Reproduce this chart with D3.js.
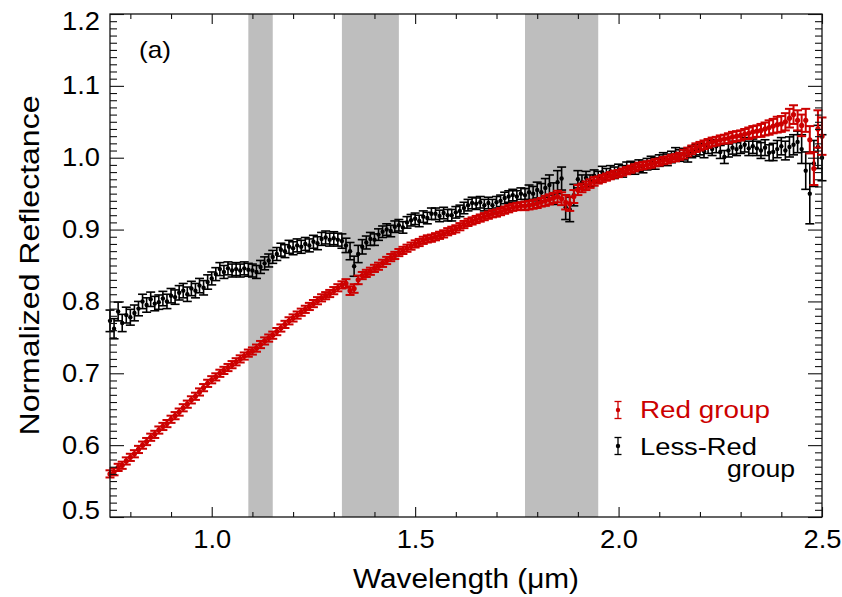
<!DOCTYPE html>
<html>
<head>
<meta charset="utf-8">
<script src="https://cdn.jsdelivr.net/npm/d3@7"></script>
<style>
  html, body { margin: 0; padding: 0; background: #fff; }
  svg { display: block; font-family: "Liberation Sans", Arial, Helvetica, sans-serif; }
</style>
</head>
<body>
<svg id="chart" width="842" height="597"></svg>
<script>
// ---------------- DATA ----------------
const wavelength = [
  0.75,0.76,0.77,0.78,0.79,0.80,0.81,0.82,0.83,0.84,
  0.85,0.86,0.87,0.88,0.89,0.90,0.91,0.92,0.93,0.94,
  0.95,0.96,0.97,0.98,0.99,1.00,1.01,1.02,1.03,1.04,
  1.05,1.06,1.07,1.08,1.09,1.10,1.11,1.12,1.13,1.14,
  1.15,1.16,1.17,1.18,1.19,1.20,1.21,1.22,1.23,1.24,
  1.25,1.26,1.27,1.28,1.29,1.30,1.31,1.32,1.33,1.34,
  1.35,1.36,1.37,1.38,1.39,1.40,1.41,1.42,1.43,1.44,
  1.45,1.46,1.47,1.48,1.49,1.50,1.51,1.52,1.53,1.54,
  1.55,1.56,1.57,1.58,1.59,1.60,1.61,1.62,1.63,1.64,
  1.65,1.66,1.67,1.68,1.69,1.70,1.71,1.72,1.73,1.74,
  1.75,1.76,1.77,1.78,1.79,1.80,1.81,1.82,1.83,1.84,
  1.85,1.86,1.87,1.88,1.89,1.90,1.91,1.92,1.93,1.94,
  1.95,1.96,1.97,1.98,1.99,2.00,2.01,2.02,2.03,2.04,
  2.05,2.06,2.07,2.08,2.09,2.10,2.11,2.12,2.13,2.14,
  2.15,2.16,2.17,2.18,2.19,2.20,2.21,2.22,2.23,2.24,
  2.25,2.26,2.27,2.28,2.29,2.30,2.31,2.32,2.33,2.34,
  2.35,2.36,2.37,2.38,2.39,2.40,2.41,2.42,2.43,2.44,
  2.45,2.46,2.47,2.48,2.49,2.50
];

const redGroup = [
  0.560,0.563,0.569,0.572,0.578,0.583,0.588,0.594,0.600,0.605,
  0.611,0.615,0.621,0.626,0.630,0.636,0.641,0.646,0.652,0.657,
  0.663,0.668,0.674,0.680,0.686,0.691,0.695,0.700,0.704,0.708,
  0.712,0.716,0.720,0.724,0.728,0.731,0.735,0.740,0.745,0.749,
  0.753,0.758,0.763,0.768,0.773,0.777,0.781,0.785,0.789,0.793,
  0.797,0.801,0.805,0.808,0.811,0.815,0.819,0.823,0.825,0.815,
  0.818,0.830,0.836,0.839,0.842,0.846,0.849,0.853,0.857,0.861,
  0.864,0.868,0.871,0.874,0.877,0.880,0.882,0.885,0.887,0.888,
  0.890,0.892,0.894,0.897,0.899,0.901,0.904,0.907,0.910,0.912,
  0.914,0.916,0.918,0.920,0.922,0.923,0.925,0.927,0.929,0.931,
  0.932,0.933,0.933,0.934,0.935,0.936,0.938,0.940,0.942,0.944,
  0.946,0.943,0.938,0.936,0.946,0.955,0.958,0.961,0.964,0.967,
  0.969,0.971,0.973,0.975,0.977,0.978,0.980,0.982,0.984,0.986,
  0.988,0.989,0.990,0.991,0.993,0.994,0.996,0.997,0.999,1.000,
  1.002,1.005,1.008,1.011,1.014,1.016,1.018,1.020,1.022,1.023,
  1.025,1.026,1.027,1.029,1.030,1.031,1.033,1.034,1.036,1.037,
  1.038,1.040,1.042,1.044,1.046,1.047,1.050,1.055,1.060,1.052,
  1.045,1.052,1.025,0.985,1.040,1.030
];

const redError = [
  0.005,0.005,0.005,0.005,0.005,0.005,0.005,0.005,0.005,0.005,
  0.005,0.005,0.005,0.005,0.005,0.005,0.005,0.005,0.005,0.005,
  0.005,0.005,0.005,0.005,0.005,0.005,0.005,0.005,0.005,0.005,
  0.005,0.005,0.005,0.005,0.005,0.005,0.005,0.005,0.005,0.005,
  0.005,0.005,0.005,0.005,0.005,0.005,0.005,0.005,0.005,0.005,
  0.005,0.005,0.005,0.005,0.005,0.005,0.005,0.005,0.006,0.006,
  0.006,0.006,0.005,0.005,0.005,0.005,0.005,0.005,0.005,0.005,
  0.005,0.005,0.005,0.005,0.005,0.005,0.005,0.005,0.005,0.005,
  0.005,0.005,0.005,0.005,0.005,0.005,0.005,0.005,0.005,0.005,
  0.005,0.005,0.005,0.005,0.005,0.005,0.005,0.005,0.005,0.005,
  0.005,0.005,0.006,0.006,0.006,0.006,0.006,0.007,0.007,0.007,
  0.008,0.009,0.010,0.010,0.009,0.007,0.006,0.006,0.006,0.006,
  0.005,0.005,0.005,0.005,0.005,0.005,0.005,0.005,0.005,0.005,
  0.005,0.005,0.005,0.005,0.005,0.005,0.005,0.005,0.005,0.005,
  0.005,0.006,0.006,0.006,0.006,0.006,0.006,0.006,0.006,0.006,
  0.006,0.006,0.007,0.007,0.007,0.007,0.007,0.008,0.008,0.008,
  0.009,0.009,0.010,0.010,0.011,0.011,0.012,0.013,0.013,0.014,
  0.015,0.016,0.019,0.023,0.026,0.026
];

const lessRedGroup = [
  0.773,0.762,0.786,0.770,0.781,0.778,0.784,0.790,0.800,0.795,
  0.803,0.797,0.799,0.804,0.800,0.808,0.806,0.812,0.815,0.810,
  0.818,0.815,0.822,0.819,0.827,0.832,0.838,0.845,0.841,0.846,
  0.843,0.845,0.843,0.846,0.844,0.843,0.841,0.848,0.853,0.857,
  0.862,0.866,0.872,0.870,0.876,0.874,0.878,0.876,0.880,0.878,
  0.883,0.881,0.887,0.889,0.886,0.888,0.886,0.884,0.878,0.870,
  0.849,0.866,0.876,0.882,0.887,0.886,0.893,0.897,0.900,0.898,
  0.904,0.906,0.903,0.910,0.913,0.915,0.912,0.918,0.916,0.922,
  0.922,0.919,0.923,0.920,0.920,0.924,0.926,0.930,0.934,0.937,
  0.936,0.938,0.934,0.937,0.934,0.938,0.940,0.944,0.946,0.948,
  0.946,0.950,0.948,0.952,0.950,0.955,0.952,0.958,0.962,0.950,
  0.966,0.971,0.931,0.928,0.948,0.970,0.966,0.972,0.968,0.975,
  0.973,0.980,0.977,0.981,0.979,0.983,0.981,0.986,0.987,0.985,
  0.989,0.987,0.991,0.994,0.992,0.996,0.999,0.997,1.001,1.006,
  1.003,1.005,1.002,1.008,1.010,1.012,1.009,1.015,1.012,1.016,
  1.008,1.001,1.010,1.014,1.012,1.015,1.018,1.013,1.016,1.013,
  1.010,1.014,1.007,1.008,1.012,1.016,1.010,1.015,1.018,1.022,
  1.012,0.982,0.950,0.992,1.015,1.000
];

const lessRedError = [
  0.015,0.014,0.013,0.012,0.011,0.011,0.011,0.010,0.010,0.010,
  0.010,0.010,0.010,0.010,0.010,0.010,0.010,0.010,0.010,0.010,
  0.010,0.010,0.010,0.010,0.010,0.009,0.009,0.009,0.009,0.009,
  0.009,0.009,0.009,0.009,0.009,0.009,0.009,0.009,0.009,0.009,
  0.009,0.009,0.009,0.009,0.009,0.009,0.009,0.009,0.009,0.009,
  0.009,0.009,0.009,0.009,0.009,0.009,0.009,0.010,0.010,0.012,
  0.014,0.012,0.010,0.009,0.009,0.008,0.008,0.008,0.008,0.008,
  0.008,0.008,0.008,0.008,0.008,0.008,0.008,0.008,0.008,0.008,
  0.008,0.008,0.008,0.008,0.008,0.008,0.008,0.008,0.008,0.008,
  0.008,0.008,0.008,0.008,0.008,0.008,0.008,0.008,0.008,0.008,
  0.008,0.008,0.009,0.010,0.010,0.011,0.012,0.013,0.014,0.015,
  0.016,0.016,0.017,0.017,0.015,0.012,0.010,0.009,0.008,0.008,
  0.008,0.008,0.008,0.008,0.008,0.008,0.008,0.008,0.008,0.008,
  0.008,0.008,0.008,0.008,0.008,0.008,0.008,0.008,0.008,0.008,
  0.008,0.008,0.008,0.008,0.008,0.008,0.009,0.009,0.009,0.009,
  0.009,0.009,0.009,0.009,0.009,0.009,0.010,0.010,0.010,0.010,
  0.011,0.011,0.011,0.012,0.012,0.012,0.013,0.014,0.014,0.015,
  0.020,0.026,0.042,0.032,0.030,0.032
];

const bands = [[1.09, 1.15], [1.32, 1.46], [1.77, 1.95]];
const xMajorTicks = [1.0, 1.5, 2.0, 2.5];
const xMajorLabels = ["1.0", "1.5", "2.0", "2.5"];
const yMajorTicks = [0.5, 0.6, 0.7, 0.8, 0.9, 1.0, 1.1, 1.2];
const yMajorLabels = ["0.5", "0.6", "0.7", "0.8", "0.9", "1.0", "1.1", "1.2"];
const seriesNames = ["Red group", "Less-Red group"];
const seriesColors = ["#cc0000", "#000000"];

// ---------------- LAYOUT ----------------
const svg = d3.select("#chart");
const L = 110, R = 822, T = 14, B = 517;
const x = d3.scaleLinear().domain([0.75, 2.5]).range([L, R]);
const y = d3.scaleLinear().domain([0.5, 1.2]).range([B, T]);

const xMinor = d3.range(8, 26).map(v => v / 10).filter(v => xMajorTicks.indexOf(v) < 0);
const yMinor = d3.range(50, 121).map(v => v / 100).filter(v => !yMajorTicks.some(t => Math.abs(t - v) < 1e-9));

// wide text helper (reference font is set wider than Arial)
function stretch(sel, w) {
  sel.attr("textLength", w).attr("lengthAdjust", "spacingAndGlyphs");
}

// grey bands
svg.append("g").selectAll("rect").data(bands).join("rect")
  .attr("x", d => x(d[0])).attr("width", d => x(d[1]) - x(d[0]))
  .attr("y", T).attr("height", B - T)
  .attr("fill", "#bebebe");

// error-bar series
function drawSeries(vals, errs, color, capW, r, sw) {
  const g = svg.append("g").attr("stroke", color).attr("fill", color);
  const pts = wavelength.map((w, i) => ({ w, v: vals[i], e: errs[i] }));
  g.selectAll("line.v").data(pts).join("line").attr("class", "v")
    .attr("x1", d => x(d.w)).attr("x2", d => x(d.w))
    .attr("y1", d => y(d.v - d.e)).attr("y2", d => y(d.v + d.e))
    .attr("stroke-width", sw);
  g.selectAll("line.lo").data(pts).join("line").attr("class", "lo")
    .attr("x1", d => x(d.w) - capW / 2).attr("x2", d => x(d.w) + capW / 2)
    .attr("y1", d => y(d.v - d.e)).attr("y2", d => y(d.v - d.e))
    .attr("stroke-width", sw);
  g.selectAll("line.hi").data(pts).join("line").attr("class", "hi")
    .attr("x1", d => x(d.w) - capW / 2).attr("x2", d => x(d.w) + capW / 2)
    .attr("y1", d => y(d.v + d.e)).attr("y2", d => y(d.v + d.e))
    .attr("stroke-width", sw);
  g.selectAll("circle").data(pts).join("circle")
    .attr("cx", d => x(d.w)).attr("cy", d => y(d.v)).attr("r", r).attr("stroke", "none");
}
drawSeries(lessRedGroup, lessRedError, seriesColors[1], 9, 2.2, 1.6);
drawSeries(redGroup, redError, seriesColors[0], 9, 2.6, 2.0);

// ---------------- AXES ----------------
const axisColor = "#111";
function styleAxis(g) {
  g.select(".domain").remove();
  g.selectAll(".tick line").attr("stroke", axisColor).attr("stroke-width", 1.1);
}
// bottom
svg.append("g").attr("transform", `translate(0,${B})`)
  .call(d3.axisBottom(x).tickValues(xMajorTicks).tickSize(-10).tickPadding(13)
    .tickFormat((d, i) => xMajorLabels[i]))
  .call(styleAxis)
  .call(g => g.selectAll("text").attr("font-size", 25).attr("fill", "#000")
    .attr("font-family", "Liberation Sans, Arial, sans-serif").call(stretch, 38));
svg.append("g").attr("transform", `translate(0,${B})`)
  .call(d3.axisBottom(x).tickValues(xMinor).tickSize(-5).tickFormat(""))
  .call(styleAxis);
// top
svg.append("g").attr("transform", `translate(0,${T})`)
  .call(d3.axisTop(x).tickValues(xMajorTicks).tickSize(-10).tickFormat(""))
  .call(styleAxis);
svg.append("g").attr("transform", `translate(0,${T})`)
  .call(d3.axisTop(x).tickValues(xMinor).tickSize(-5).tickFormat(""))
  .call(styleAxis);
// left (end labels are nudged inside the frame, as in the reference)
svg.append("g").attr("transform", `translate(${L},0)`)
  .call(d3.axisLeft(y).tickValues(yMajorTicks).tickSize(-14).tickPadding(10)
    .tickFormat((d, i) => yMajorLabels[i]))
  .call(styleAxis)
  .call(g => g.selectAll("text").attr("font-size", 25).attr("fill", "#000")
    .attr("font-family", "Liberation Sans, Arial, sans-serif").call(stretch, 38)
    .attr("y", d => d === 1.2 ? 7 : (d === 0.5 ? -7 : 0)));
svg.append("g").attr("transform", `translate(${L},0)`)
  .call(d3.axisLeft(y).tickValues(yMinor).tickSize(-7).tickFormat(""))
  .call(styleAxis);
// right
svg.append("g").attr("transform", `translate(${R},0)`)
  .call(d3.axisRight(y).tickValues(yMajorTicks).tickSize(-14).tickFormat(""))
  .call(styleAxis);
svg.append("g").attr("transform", `translate(${R},0)`)
  .call(d3.axisRight(y).tickValues(yMinor).tickSize(-7).tickFormat(""))
  .call(styleAxis);

// frame
svg.append("rect").attr("x", L).attr("y", T).attr("width", R - L).attr("height", B - T)
  .attr("fill", "none").attr("stroke", axisColor).attr("stroke-width", 1.3);

// axis titles
svg.append("text").attr("x", (L + R) / 2).attr("y", 588).attr("text-anchor", "middle")
  .attr("font-size", 27).text("Wavelength (\u03bcm)").call(stretch, 226);
svg.append("text").attr("transform", `translate(39,${(T + B) / 2}) rotate(-90)`)
  .attr("text-anchor", "middle").attr("font-size", 27).text("Normalized Reflectance").call(stretch, 340);

// panel label
svg.append("text").attr("x", 139).attr("y", 58).attr("font-size", 24).text("(a)").call(stretch, 32);

// ---------------- LEGEND ----------------
const leg = svg.append("g");
const legItems = [
  { color: seriesColors[0], cy: 410 },
  { color: seriesColors[1], cy: 446 }
];
legItems.forEach(it => {
  const g = leg.append("g").attr("stroke", it.color).attr("stroke-width", 1.3);
  g.append("line").attr("x1", 618).attr("x2", 618).attr("y1", it.cy - 8.5).attr("y2", it.cy + 8.5);
  g.append("line").attr("x1", 614.5).attr("x2", 621.5).attr("y1", it.cy - 8.5).attr("y2", it.cy - 8.5);
  g.append("line").attr("x1", 614.5).attr("x2", 621.5).attr("y1", it.cy + 8.5).attr("y2", it.cy + 8.5);
  g.append("circle").attr("cx", 618).attr("cy", it.cy).attr("r", 2.2).attr("fill", it.color).attr("stroke", "none");
});
leg.append("text").attr("x", 640).attr("y", 418).attr("font-size", 23).attr("fill", seriesColors[0])
  .text("Red group").call(stretch, 130);
leg.append("text").attr("x", 640).attr("y", 455).attr("font-size", 23).attr("fill", seriesColors[1])
  .text("Less-Red").call(stretch, 117);
leg.append("text").attr("x", 727).attr("y", 477).attr("font-size", 23).attr("fill", seriesColors[1])
  .text("group").call(stretch, 68);
</script>
</body>
</html>
